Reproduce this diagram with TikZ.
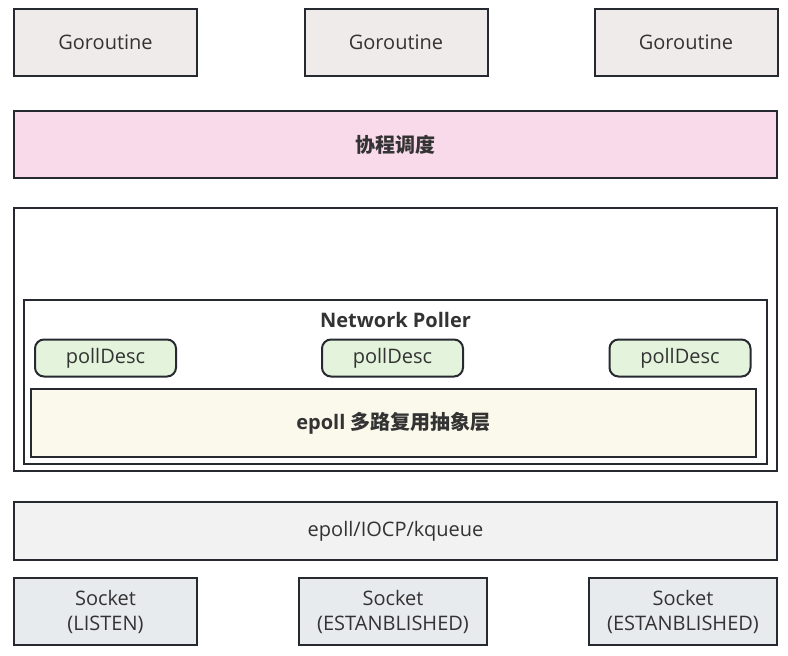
\documentclass[tikz,border=0pt]{standalone}
\usepackage{fontspec}
\setmainfont{Open Sans}
\newfontfamily\cjk{Noto Sans CJK SC}
\usepackage{xcolor}
\usetikzlibrary{positioning}

\definecolor{edge}{HTML}{262A30}
\definecolor{gorofill}{HTML}{EFEBEA}
\definecolor{schedfill}{HTML}{F9DAEA}
\definecolor{descfill}{HTML}{E4F4DC}
\definecolor{epollfill}{HTML}{FBF8EC}
\definecolor{kernfill}{HTML}{F2F2F2}
\definecolor{sockfill}{HTML}{E8EBEE}

\tikzset{
  blk/.style={draw=edge, line width=2pt, text=black!80, font=\fontsize{20}{25}\selectfont, align=center, inner sep=0pt},
  goro/.style={blk, fill=gorofill, minimum width=183pt, minimum height=67pt},
  desc/.style={blk, fill=descfill, rounded corners=9pt, minimum width=141pt, minimum height=37pt},
  sock/.style={blk, fill=sockfill, minimum height=67pt}
}

\begin{document}
\begin{tikzpicture}[x=1pt,y=-1pt]
\useasboundingbox (0,0) rectangle (788,656);

\node[goro] (g1) at (105.5,42.5) {Goroutine};
\node[goro] (g2) at (396,42.5) {Goroutine};
\node[goro] (g3) at (686,42.5) {Goroutine};

\node[blk, fill=schedfill, minimum width=763pt, minimum height=67pt] (sched) at (395.5,144.5) {\cjk\bfseries 协程调度};

\node[blk, fill=white, minimum width=763pt, minimum height=263pt] (runtime) at (395.5,339.5) {};
\node[blk, fill=white, minimum width=743pt, minimum height=164pt] (poller) at (395.5,382) {};
\node[font=\fontsize{20}{25}\selectfont\bfseries, text=black!80] (ptitle) at (395.5,320) {Network Poller};

\node[desc] (d1) at (105.5,358) {pollDesc};
\node[desc] (d2) at (392.5,358) {pollDesc};
\node[desc] (d3) at (680,358) {pollDesc};

\node[blk, fill=epollfill, minimum width=725pt, minimum height=68pt] (abs) at (393.5,423) {\bfseries epoll {\cjk 多路复用抽象层}};

\node[blk, fill=kernfill, minimum width=763pt, minimum height=58pt] (kern) at (395.5,531) {epoll/IOCP/kqueue};

\node[sock, minimum width=183pt] (s1) at (105.5,611.5) {Socket\\(LISTEN)};
\node[sock, minimum width=188pt] (s2) at (393,611.5) {Socket\\(ESTANBLISHED)};
\node[sock, minimum width=188pt] (s3) at (683,611.5) {Socket\\(ESTANBLISHED)};
\end{tikzpicture}
\end{document}
